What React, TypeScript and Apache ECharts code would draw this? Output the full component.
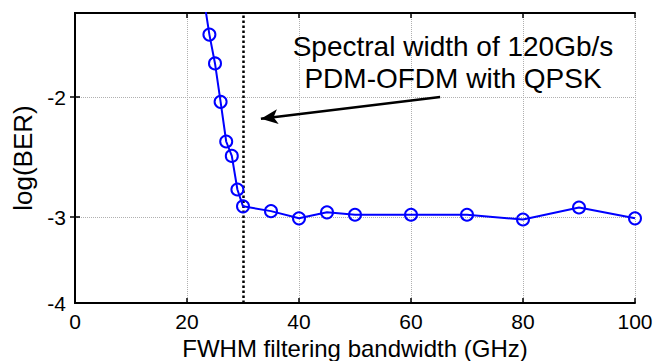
import React, { useEffect, useRef } from 'react';
import * as echarts from 'echarts';

// Data
const bandwidthGHz = [23, 24, 25, 26, 27, 28, 29, 30, 35, 40, 45, 50, 60, 70, 80, 90, 100];
const logBER = [-1.18, -1.48, -1.72, -2.04, -2.37, -2.49, -2.77, -2.91, -2.95, -3.01, -2.96, -2.98, -2.98, -2.98, -3.02, -2.92, -3.01];

const xTicks = [0, 20, 40, 60, 80, 100];
const yTicks = [-3, -2];
const yBottom = -3.715; // bottom edge of the frame, labelled "-4" in the reference
const yTop = -1.3;
const yBottomLabel = '-4';

const spectralWidthGHz = 30;
const arrowFrom = [65.2, -2.0];
const arrowTo = [33.2, -2.18];
const annotationLines = ['Spectral width of 120Gb/s', 'PDM-OFDM with QPSK'];

const FONT = '"Liberation Sans", Arial, Helvetica, sans-serif';
const BLUE = '#0000ff';

export default function App() {
  const ref = useRef<HTMLDivElement>(null);

  useEffect(() => {
    if (!ref.current) return;
    const chart = echarts.init(ref.current, undefined, { renderer: 'svg' });

    const gridLine = { show: true, lineStyle: { color: '#b0b0b0', type: 'dotted', width: 1 } };
    const frameLine = { show: true, lineStyle: { color: '#000', width: 2 } };
    const tickStyle = { show: true, inside: true, length: 5, lineStyle: { color: '#000', width: 1.5 } };

    chart.setOption({
      animation: false,
      textStyle: { fontFamily: FONT },
      grid: { left: 75, right: 19, top: 13, bottom: 58, containLabel: false, outerBoundsMode: 'none' },
      xAxis: [
        {
          type: 'value',
          min: xTicks[0],
          max: xTicks[xTicks.length - 1],
          interval: 20,
          name: 'FWHM filtering bandwidth (GHz)',
          nameLocation: 'middle',
          nameGap: 30,
          nameTextStyle: { fontSize: 24, color: '#000', fontFamily: FONT },
          axisLine: frameLine,
          axisTick: tickStyle,
          axisLabel: { fontSize: 21, color: '#000', margin: 8, fontFamily: FONT, showMaxLabel: true, showMinLabel: true },
          splitLine: gridLine,
        },
        {
          type: 'value',
          position: 'top',
          min: xTicks[0],
          max: xTicks[xTicks.length - 1],
          interval: 20,
          axisLine: frameLine,
          axisTick: tickStyle,
          axisLabel: { show: false },
          splitLine: { show: false },
        },
      ],
      yAxis: [
        {
          type: 'value',
          min: yBottom,
          max: yTop,
          name: 'log(BER)',
          nameLocation: 'middle',
          nameGap: 36,
          nameTextStyle: { fontSize: 26, color: '#000', fontFamily: FONT },
          axisLine: frameLine,
          axisTick: { ...tickStyle, customValues: yTicks },
          axisLabel: {
            fontSize: 21,
            color: '#000',
            margin: 9,
            fontFamily: FONT,
            customValues: [yBottom, ...yTicks],
            formatter: (v: number) => (Math.abs(v - yBottom) < 1e-6 ? yBottomLabel : String(v)),
          },
          splitLine: gridLine,
        },
        {
          type: 'value',
          position: 'right',
          min: yBottom,
          max: yTop,
          axisLine: frameLine,
          axisTick: { ...tickStyle, customValues: yTicks },
          axisLabel: { show: false },
          splitLine: { show: false },
        },
      ],
      graphic: [
        {
          type: 'text',
          x: 453,
          y: 30,
          silent: true,
          style: {
            text: annotationLines.join('\n'),
            fontSize: 28,
            lineHeight: 32,
            fontFamily: FONT,
            fill: '#000',
            align: 'center',
            verticalAlign: 'top',
          },
          z: 100,
        },
      ],
      series: [
        {
          type: 'line',
          data: bandwidthGHz.map((x, i) => [x, logBER[i]]),
          clip: true,
          symbol: 'circle',
          symbolSize: 12,
          showSymbol: true,
          lineStyle: { color: BLUE, width: 2 },
          itemStyle: { color: 'rgba(0,0,0,0)', borderColor: BLUE, borderWidth: 2 },
          z: 5,
          markLine: {
            silent: true,
            animation: false,
            symbol: ['none', 'none'],
            label: { show: false },
            emphasis: { disabled: true },
            data: [
              {
                xAxis: spectralWidthGHz,
                lineStyle: { color: '#000', type: 'dotted', width: 2.5 },
              },
              [
                {
                  coord: arrowFrom,
                  symbol: 'none',
                  lineStyle: { color: '#000', type: 'solid', width: 2.5 },
                },
                {
                  coord: arrowTo,
                  symbol: 'arrow',
                  symbolSize: [11, 17],
                },
              ],
            ],
          },
        },
      ],
    });

    return () => {
      chart.dispose();
    };
  }, []);

  return (
    <div
      ref={ref}
      style={{ position: 'fixed', left: 0, top: 0, width: 654, height: 361, background: '#fff' }}
    />
  );
}
